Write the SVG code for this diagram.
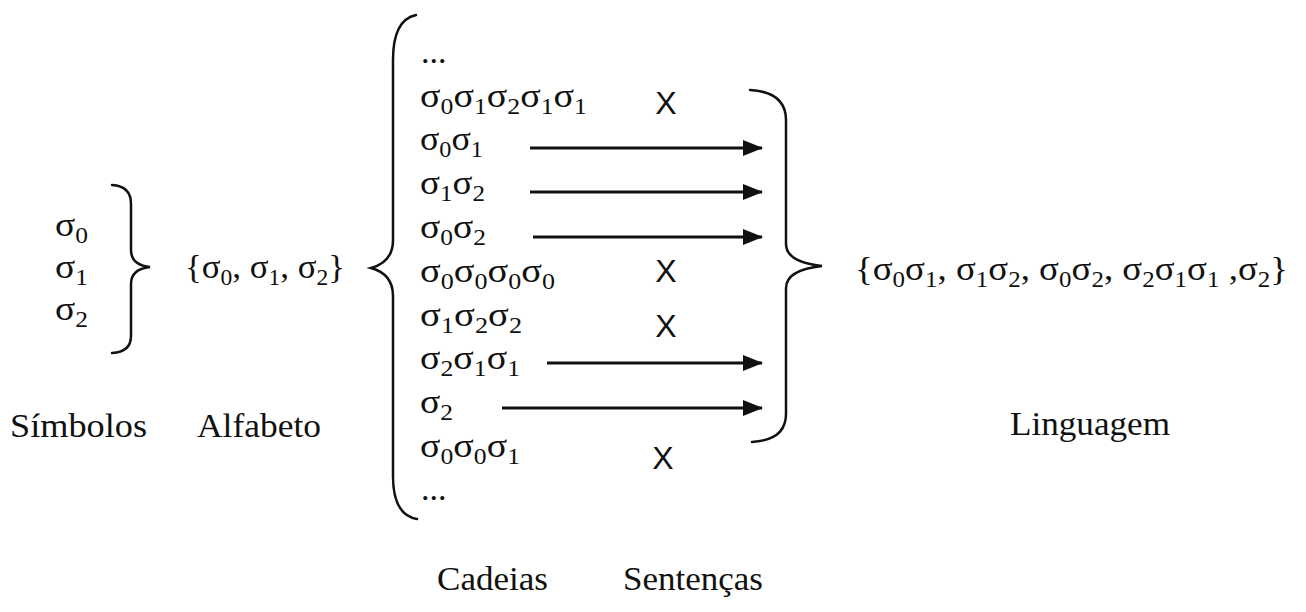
<svg xmlns="http://www.w3.org/2000/svg" width="1306" height="612" viewBox="0 0 1306 612">
<style>
.t{font-family:"Liberation Serif","Times New Roman",serif;font-size:34px;fill:#111}
.sub{font-size:23px}
.x{font-family:"Liberation Sans",Arial,sans-serif;font-size:32px;fill:#111}
.br{fill:none;stroke:#111;stroke-width:2.5;stroke-linecap:round}
.ar{stroke:#111;stroke-width:2.8;fill:none}
</style>
<defs>
<marker id="ah" markerUnits="userSpaceOnUse" markerWidth="20" markerHeight="16" refX="19" refY="8" orient="auto">
<path d="M0,0 L20,8 L0,16 Z" fill="#111"/>
</marker>
</defs>
<rect width="1306" height="612" fill="#fff"/>

<g id="simbolos">
<text class="t" x="55" y="236" textLength="33" lengthAdjust="spacingAndGlyphs">σ<tspan class="sub" dy="7">0</tspan></text>
<text class="t" x="55" y="278" textLength="33" lengthAdjust="spacingAndGlyphs">σ<tspan class="sub" dy="7">1</tspan></text>
<text class="t" x="55" y="320" textLength="33" lengthAdjust="spacingAndGlyphs">σ<tspan class="sub" dy="7">2</tspan></text>
<path class="br" d="M112,185 Q131,186 131,204 L131,250 Q131,265 150,267 Q131,269 131,284 L131,336 Q131,352 112,353"/>
<text class="t" x="10" y="437" textLength="137" lengthAdjust="spacingAndGlyphs">Símbolos</text>
</g>

<g id="alfabeto">
<text class="t" x="185" y="278" textLength="160" lengthAdjust="spacingAndGlyphs">{σ<tspan class="sub" dy="7">0</tspan><tspan dy="-7">, σ</tspan><tspan class="sub" dy="7">1</tspan><tspan dy="-7">, σ</tspan><tspan class="sub" dy="7">2</tspan><tspan dy="-7">}</tspan></text>
<text class="t" x="197" y="437" textLength="124" lengthAdjust="spacingAndGlyphs">Alfabeto</text>
</g>

<g id="cadeias">
<path class="br" d="M416,15 Q393,20 393,60 L393,240 Q393,262 371,268 Q393,274 393,296 L393,476 Q393,515 417,519"/>
<text class="t" x="421" y="63">...</text>
<text class="t" x="420" y="107" textLength="167" lengthAdjust="spacingAndGlyphs">σ<tspan class="sub" dy="7">0</tspan><tspan dy="-7">σ</tspan><tspan class="sub" dy="7">1</tspan><tspan dy="-7">σ</tspan><tspan class="sub" dy="7">2</tspan><tspan dy="-7">σ</tspan><tspan class="sub" dy="7">1</tspan><tspan dy="-7">σ</tspan><tspan class="sub" dy="7">1</tspan></text>
<text class="t" x="420" y="150" textLength="63" lengthAdjust="spacingAndGlyphs">σ<tspan class="sub" dy="7">0</tspan><tspan dy="-7">σ</tspan><tspan class="sub" dy="7">1</tspan></text>
<text class="t" x="420" y="194" textLength="65" lengthAdjust="spacingAndGlyphs">σ<tspan class="sub" dy="7">1</tspan><tspan dy="-7">σ</tspan><tspan class="sub" dy="7">2</tspan></text>
<text class="t" x="420" y="238" textLength="66" lengthAdjust="spacingAndGlyphs">σ<tspan class="sub" dy="7">0</tspan><tspan dy="-7">σ</tspan><tspan class="sub" dy="7">2</tspan></text>
<text class="t" x="420" y="282" textLength="135" lengthAdjust="spacingAndGlyphs">σ<tspan class="sub" dy="7">0</tspan><tspan dy="-7">σ</tspan><tspan class="sub" dy="7">0</tspan><tspan dy="-7">σ</tspan><tspan class="sub" dy="7">0</tspan><tspan dy="-7">σ</tspan><tspan class="sub" dy="7">0</tspan></text>
<text class="t" x="420" y="326" textLength="102" lengthAdjust="spacingAndGlyphs">σ<tspan class="sub" dy="7">1</tspan><tspan dy="-7">σ</tspan><tspan class="sub" dy="7">2</tspan><tspan dy="-7">σ</tspan><tspan class="sub" dy="7">2</tspan></text>
<text class="t" x="420" y="369" textLength="100" lengthAdjust="spacingAndGlyphs">σ<tspan class="sub" dy="7">2</tspan><tspan dy="-7">σ</tspan><tspan class="sub" dy="7">1</tspan><tspan dy="-7">σ</tspan><tspan class="sub" dy="7">1</tspan></text>
<text class="t" x="420" y="413" textLength="33" lengthAdjust="spacingAndGlyphs">σ<tspan class="sub" dy="7">2</tspan></text>
<text class="t" x="420" y="457" textLength="100" lengthAdjust="spacingAndGlyphs">σ<tspan class="sub" dy="7">0</tspan><tspan dy="-7">σ</tspan><tspan class="sub" dy="7">0</tspan><tspan dy="-7">σ</tspan><tspan class="sub" dy="7">1</tspan></text>
<text class="t" x="421" y="500">...</text>
<text class="t" x="437" y="590" textLength="111" lengthAdjust="spacingAndGlyphs">Cadeias</text>
</g>

<g id="sentencas">
<text class="x" x="666" y="114" text-anchor="middle">X</text>
<text class="x" x="666" y="282" text-anchor="middle">X</text>
<text class="x" x="666" y="337" text-anchor="middle">X</text>
<text class="x" x="663" y="469" text-anchor="middle">X</text>
<text class="t" x="623" y="590" textLength="140" lengthAdjust="spacingAndGlyphs">Sentenças</text>
</g>

<g id="linguagem">
<path class="br" d="M750,90 Q786,92 786,120 L786,244 Q786,262 822,266 Q786,270 786,288 L786,414 Q786,440 752,442"/>
<text class="t" x="855" y="280" textLength="433" lengthAdjust="spacingAndGlyphs">{σ<tspan class="sub" dy="7">0</tspan><tspan dy="-7">σ</tspan><tspan class="sub" dy="7">1</tspan><tspan dy="-7">, σ</tspan><tspan class="sub" dy="7">1</tspan><tspan dy="-7">σ</tspan><tspan class="sub" dy="7">2</tspan><tspan dy="-7">, σ</tspan><tspan class="sub" dy="7">0</tspan><tspan dy="-7">σ</tspan><tspan class="sub" dy="7">2</tspan><tspan dy="-7">, σ</tspan><tspan class="sub" dy="7">2</tspan><tspan dy="-7">σ</tspan><tspan class="sub" dy="7">1</tspan><tspan dy="-7">σ</tspan><tspan class="sub" dy="7">1</tspan><tspan dy="-7"> ,σ</tspan><tspan class="sub" dy="7">2</tspan><tspan dy="-7">}</tspan></text>
<text class="t" x="1010" y="435" textLength="160" lengthAdjust="spacingAndGlyphs">Linguagem</text>
</g>

<g id="connectors">
<line class="ar" x1="530" y1="148" x2="762" y2="148" marker-end="url(#ah)"/>
<line class="ar" x1="530" y1="192" x2="762" y2="192" marker-end="url(#ah)"/>
<line class="ar" x1="533" y1="237" x2="762" y2="237" marker-end="url(#ah)"/>
<line class="ar" x1="547" y1="363" x2="762" y2="363" marker-end="url(#ah)"/>
<line class="ar" x1="502" y1="408" x2="762" y2="408" marker-end="url(#ah)"/>
</g>
</svg>
